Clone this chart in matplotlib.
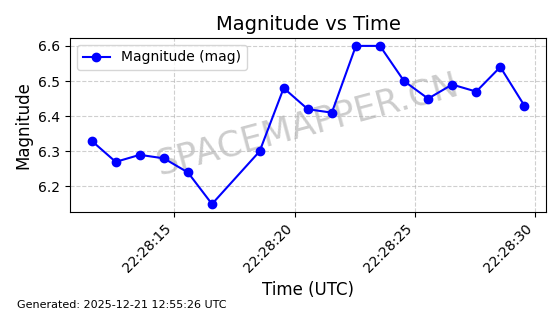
import matplotlib
matplotlib.use("Agg")
import matplotlib.pyplot as plt
import matplotlib.dates as mdates
import numpy as np
import pandas as pd

times = [
    "22:28:11.57", "22:28:12.57", "22:28:13.57", "22:28:14.57", "22:28:15.57",
    "22:28:16.57", "22:28:18.55", "22:28:19.55", "22:28:20.55", "22:28:21.55",
    "22:28:22.55", "22:28:23.55", "22:28:24.55", "22:28:25.55", "22:28:26.55",
    "22:28:27.55", "22:28:28.55", "22:28:29.55",
]
magnitudes = [
    6.33, 6.27, 6.29, 6.28, 6.24, 6.15, 6.30, 6.48, 6.42,
    6.41, 6.60, 6.60, 6.50, 6.45, 6.49, 6.47, 6.54, 6.43,
]
generated = "Generated: 2025-12-21 12:55:26 UTC"

t = pd.to_datetime(["2025-12-20 " + s for s in times])

fig = plt.figure(figsize=(5.6, 3.14), dpi=100)
ax = fig.add_axes([0.125, 0.325, 0.85, 0.554])

ax.plot(t, magnitudes, "o-", color="blue", markersize=6, linewidth=1.5,
        label="Magnitude (mag)", zorder=3)

ax.xaxis.set_major_locator(mdates.SecondLocator(bysecond=range(0, 60, 5)))
ax.xaxis.set_major_formatter(mdates.DateFormatter("%H:%M:%S"))
plt.setp(ax.get_xticklabels(), rotation=45, ha="right")

ax.grid(True, linestyle="--", alpha=0.6)
ax.set_title("Magnitude vs Time", fontsize=14)
ax.set_xlabel("Time (UTC)", fontsize=12)
ax.set_ylabel("Magnitude", fontsize=12)
ax.legend(loc="upper left")

# watermark sits under the line
ax.text(0.5, 0.5, "SPACEMAPPER.CN", transform=ax.transAxes, fontsize=25,
        color="gray", alpha=0.4, rotation=15, ha="center", va="center",
        zorder=1)

fig.text(0.03, 0.02, generated, fontsize=8)

fig.savefig("out.png", dpi=100)
